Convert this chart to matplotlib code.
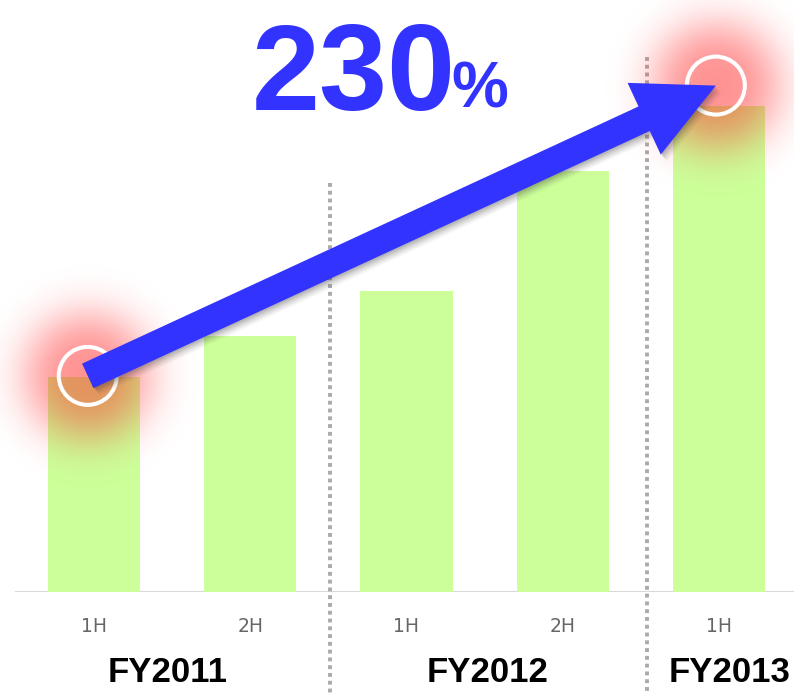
import numpy as np
import matplotlib
matplotlib.use("Agg")
import matplotlib.pyplot as plt
from matplotlib.patches import FancyArrow, Circle

# Data (index, FY2011 1H = 100)
halves = ["1H", "2H", "1H", "2H", "1H"]
values = [100, 119, 140, 196, 226]
years = ["FY2011", "FY2012", "FY2013"]
year_x = [0.47, 2.52, 4.07]
divider_x = [1.51, 3.54]
divider_top = [190, 249]
# highlighted points joined by the growth arrow
mark_x = [-0.04, 3.98]
mark_y = [100.5, 235.5]
growth = "230"

W, H = 794, 693
fig = plt.figure(figsize=(W / 100, H / 100), dpi=100)
ax = fig.add_axes([0, (H - 592) / H, 1, 592 / H])
x = np.arange(len(values))
ax.bar(x, values, width=0.59, color="#CCFF99", zorder=2)
ax.set_xlim(-94 / 156.25, (W - 94) / 156.25)
ax.set_ylim(0, 275.3)
ax.axhline(0, xmin=16 / W, xmax=1, color="#d9d9d9", lw=2.2, zorder=1)
for s in ax.spines.values():
    s.set_visible(False)
ax.set_xticks([])
ax.set_yticks([])

# dotted year dividers
for dx, top in zip(divider_x, divider_top):
    ax.plot([dx, dx], [top, -50], color="#aaaaaa", lw=2.8,
            linestyle=(0, (1, 1)), dash_capstyle="butt", clip_on=False, zorder=1)

tr = ax.get_xaxis_transform()
for i, lab in enumerate(halves):
    ax.text(i, -0.068, lab, transform=tr, ha="center", va="baseline",
            fontsize=13.5, color="#666666", family="DejaVu Sans")
for xp, lab in zip(year_x, years):
    ax.text(xp, -0.152, lab, transform=tr, ha="center", va="baseline",
            fontsize=25, fontweight="bold", color="black",
            family="Liberation Sans")

# overlay in pixel coordinates for glow, rings and arrow
ov = fig.add_axes([0, 0, 1, 1], facecolor="none")
ov.set_xlim(0, W)
ov.set_ylim(0, H)
ov.axis("off")

pts = [ax.transData.transform((a, b)) for a, b in zip(mark_x, mark_y)]

R = 115
g = np.linspace(-R, R, 231)
gx, gy = np.meshgrid(g, g)
r = np.hypot(gx, gy)
glow = np.zeros((231, 231, 4))
glow[..., 0] = 1.0
glow[..., 1] = 0.12
glow[..., 2] = 0.12
glow[..., 3] = 0.48 * np.exp(-(r / 66) ** 3)
for px, py in pts:
    ov.imshow(glow, extent=[px - R, px + R, py - R, py + R], aspect="auto",
              interpolation="bilinear", zorder=3)
    ov.add_patch(Circle((px, py), 29, fill=False, ec="white", lw=2.9, zorder=4))
ov.set_xlim(0, W)
ov.set_ylim(0, H)

(x0, y0), (x1, y1) = pts
# soft shadow
for k, a in zip(range(1, 7), [0.10, 0.09, 0.08, 0.06, 0.05, 0.04]):
    ov.add_patch(FancyArrow(x0 + k, y0 - 1.2 * k, x1 - x0, y1 - y0, width=27,
                            head_width=79, head_length=79, length_includes_head=True,
                            color="#333333", alpha=a, lw=0, zorder=5))
ov.add_patch(FancyArrow(x0, y0, x1 - x0, y1 - y0, width=27, head_width=79,
                        head_length=79, length_includes_head=True,
                        color="#3333FF", lw=0, zorder=6))

ov.text(252, H - 110, growth, ha="left", va="baseline", fontsize=88,
        fontweight="bold", color="#3333FF", family="Liberation Sans")
ov.text(451, H - 108, "%", ha="left", va="baseline", fontsize=46,
        fontweight="bold", color="#3333FF", family="Liberation Sans")

fig.savefig("out.png", dpi=100)
